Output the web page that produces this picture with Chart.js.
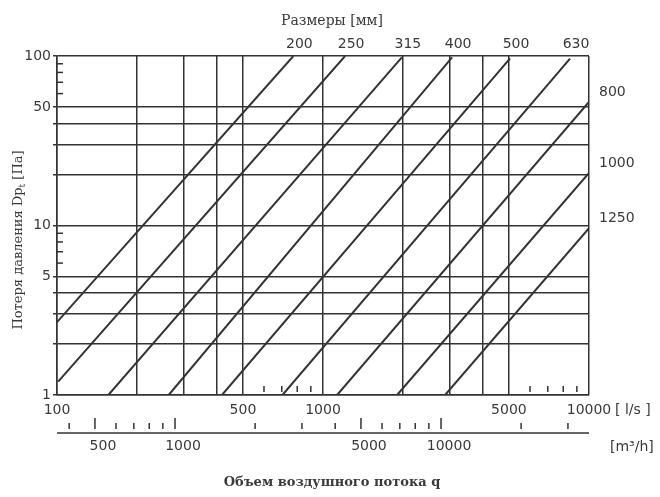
<!DOCTYPE html>
<html><head><meta charset="utf-8">
<script src="https://cdn.jsdelivr.net/npm/chart.js@4.4.1/dist/chart.umd.min.js"></script>
<style>html,body{margin:0;padding:0;background:#fff}</style>
</head><body>
<canvas id="c" width="660" height="497"></canvas>
<script>
// ---- data ----
const sizeLabels = ['200','250','315','400','500','630','800','1000','1250'];
const flowStart  = [100, 101, 156, 263, 417, 704, 1130, 1899, 2877];   // l/s
const pressStart = [2.69, 1.2, 1, 1, 1, 1, 1, 1, 1];                    // Pa
const flowEnd    = [774, 1211, 1979, 3057, 5050, 8485, 10000, 10000, 10000];
const pressEnd   = [100, 100, 98.2, 98.2, 96.9, 96.5, 53.6, 20.4, 9.65];

const xGrid = [100,200,300,400,500,1000,2000,3000,4000,5000,10000];
const xTickLabels = [100,500,1000,5000,10000];
const xMinor = [600,700,800,900,6000,7000,8000,9000];
const yGrid = [1,2,3,4,5,10,20,30,40,50,100];
const yTickLabels = [1,5,10,50,100];
const yMinor = [6,7,8,9,60,70,80,90];
const m3hMajor = [500,1000,5000,10000];
const m3hMinor = [400,600,700,800,900,2000,3000,4000,6000,7000,8000,9000,20000,30000];
const LS_TO_M3H = 3.6;

const INK = '#333333';
const TXT = '#3a3a3a';
const SANS = '"DejaVu Sans", sans-serif';
const SERIF = '"DejaVu Serif", serif';

const overlay = {
  id: 'overlay',
  afterDraw(chart) {
    const {ctx, chartArea: a, scales: {x, y}} = chart;
    const seg = (x1, y1, x2, y2) => { ctx.beginPath(); ctx.moveTo(x1, y1); ctx.lineTo(x2, y2); ctx.stroke(); };
    ctx.save();
    ctx.strokeStyle = INK; ctx.lineWidth = 1.5;
    xMinor.forEach(v => { const px = x.getPixelForValue(v); seg(px, a.bottom - 9, px, a.bottom - 3); });
    yMinor.forEach(v => { const py = y.getPixelForValue(v); seg(a.left, py, a.left + 6, py); });

    // size labels
    ctx.fillStyle = TXT; ctx.font = '14px ' + SANS; ctx.textBaseline = 'middle';
    sizeLabels.forEach((s, i) => {
      if (flowEnd[i] >= 10000) {
        ctx.textAlign = 'left';
        ctx.fillText(s, a.right + 10, y.getPixelForValue(pressEnd[i]) - 9.5);
      } else {
        ctx.textAlign = 'center';
        ctx.fillText(s, x.getPixelForValue(flowEnd[i]) + 6, a.top - 12);
      }
    });
    // unit after l/s axis
    ctx.textAlign = 'left';
    ctx.fillText('[ l/s ]', a.right + 26, a.bottom + 15);

    // m3/h axis
    const axY = a.bottom + 38;
    ctx.lineWidth = 1.5;
    seg(a.left, axY, a.right, axY);
    m3hMajor.forEach(v => { const px = x.getPixelForValue(v / LS_TO_M3H); seg(px, axY - 15, px, axY - 4); });
    m3hMinor.forEach(v => { const px = x.getPixelForValue(v / LS_TO_M3H); seg(px, axY - 10, px, axY - 4); });
    ctx.textAlign = 'center';
    m3hMajor.forEach(v => { const px = x.getPixelForValue(v / LS_TO_M3H); ctx.fillText(String(v), px + 8, axY + 13); });
    ctx.textAlign = 'left';
    ctx.fillText('[m³/h]', a.right + 21, axY + 14);

    // titles
    ctx.font = '14px ' + SERIF; ctx.textAlign = 'center';
    ctx.fillText('Размеры [мм]', 332, a.top - 35);
    ctx.font = 'bold 13px ' + SERIF;
    ctx.fillText('Объем воздушного потока q', 332, 483);

    // rotated y title with subscript
    ctx.save();
    ctx.translate(19, 240);
    ctx.rotate(-Math.PI / 2);
    const f1 = '13px ' + SERIF, f2 = '9px ' + SERIF;
    const p1 = 'Потеря давления Dp', p2 = 't', p3 = ' [Па]';
    ctx.font = f1; const w1 = ctx.measureText(p1).width, w3 = ctx.measureText(p3).width;
    ctx.font = f2; const w2 = ctx.measureText(p2).width;
    let sx = -(w1 + w2 + w3) / 2;
    ctx.textAlign = 'left';
    ctx.font = f1; ctx.fillText(p1, sx, 0); sx += w1;
    ctx.font = f2; ctx.fillText(p2, sx, 4); sx += w2;
    ctx.font = f1; ctx.fillText(p3, sx, 0);
    ctx.restore();
    ctx.restore();
  }
};

new Chart(document.getElementById('c'), {
  type: 'scatter',
  data: {
    datasets: sizeLabels.map((s, i) => ({
      label: s,
      data: [{x: flowStart[i], y: pressStart[i]}, {x: flowEnd[i], y: pressEnd[i]}],
      showLine: true, borderColor: INK, borderWidth: 2, pointRadius: 0, fill: false
    }))
  },
  options: {
    responsive: false, animation: false, devicePixelRatio: 1,
    layout: {padding: {left: 0, right: 71, top: 56, bottom: 0}},
    plugins: {legend: {display: false}, tooltip: {enabled: false}},
    scales: {
      x: {
        type: 'logarithmic', min: 100, max: 10000, position: 'bottom',
        afterBuildTicks: s => { s.ticks = xGrid.map(v => ({value: v})); },
        afterFit: s => { s.height = 102; },
        grid: {color: INK, lineWidth: 1.5, drawTicks: false},
        border: {color: INK, width: 1.5},
        ticks: {autoSkip: false, maxRotation: 0, padding: 7, color: TXT, font: {family: SANS, size: 14},
          callback: v => xTickLabels.includes(v) ? String(v) : ''}
      },
      y: {
        type: 'logarithmic', min: 1, max: 100,
        afterBuildTicks: s => { s.ticks = yGrid.map(v => ({value: v})); },
        afterFit: s => { s.width = 57; },
        grid: {color: INK, lineWidth: 1.5, tickLength: 4},
        border: {color: INK, width: 1.5},
        ticks: {autoSkip: false, padding: 2, color: TXT, font: {family: SANS, size: 14},
          callback: v => yTickLabels.includes(v) ? String(v) : ''}
      }
    }
  },
  plugins: [overlay]
});
</script>
</body></html>
